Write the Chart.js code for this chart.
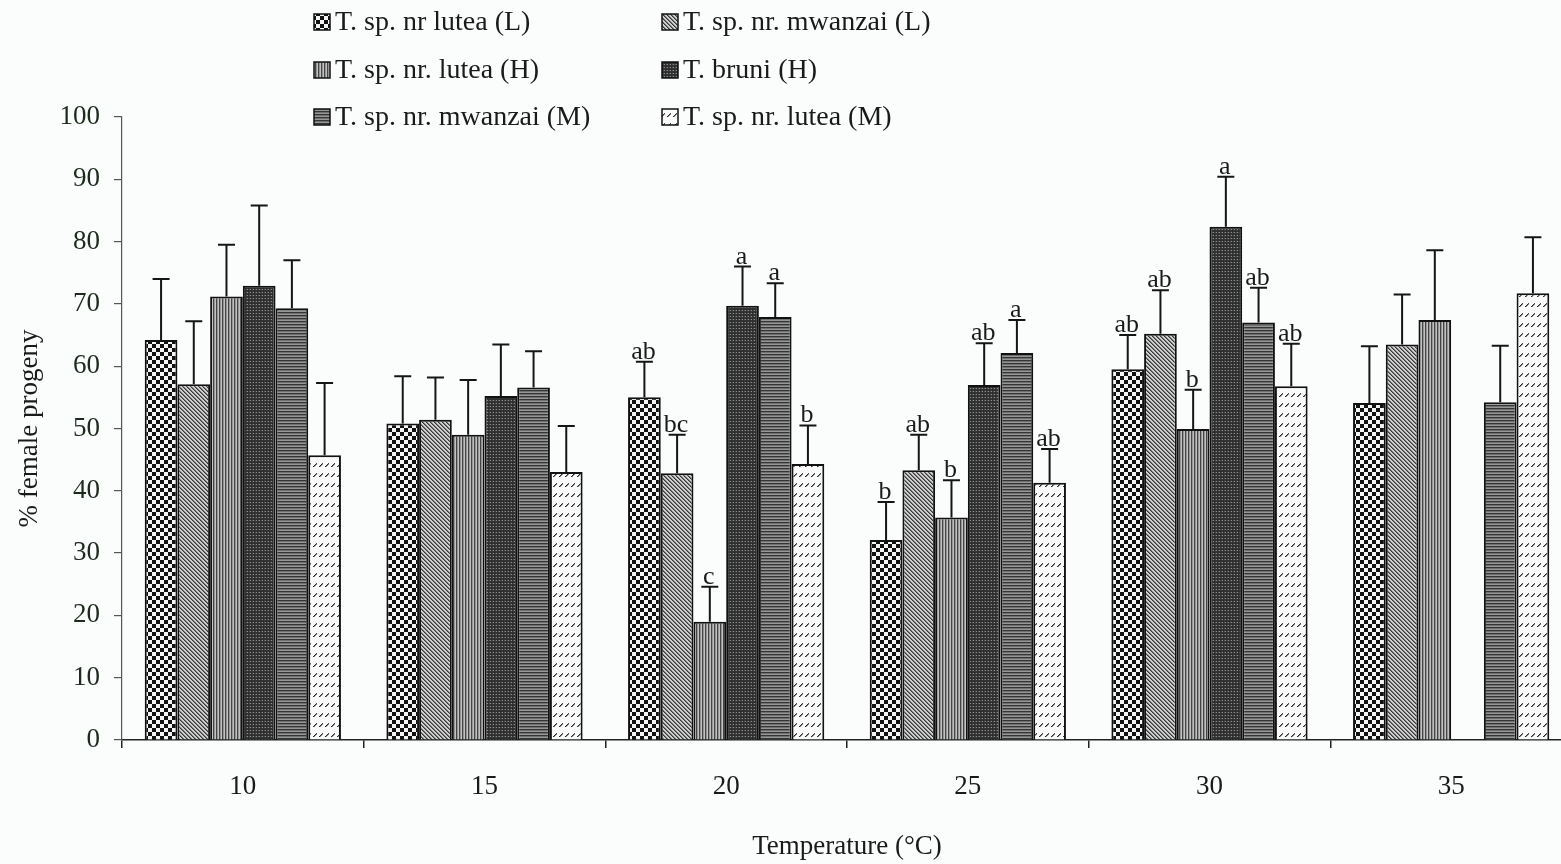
<!DOCTYPE html>
<html>
<head>
<meta charset="utf-8">
<script src="https://cdn.jsdelivr.net/npm/chart.js@4.4.0/dist/chart.umd.min.js"></script>
<style>
  html, body { margin: 0; padding: 0; background: #fbfdfd; overflow: hidden; }
  canvas { display: block; }
</style>
</head>
<body>
<canvas id="chart" width="1572" height="864"></canvas>
<script>
// Temperature treatments (°C)
const temperatures = ['10', '15', '20', '25', '30', '35'];

// Series labels
const seriesNames = [
  'T. sp. nr lutea (L)',
  'T. sp. nr. mwanzai (L)',
  'T. sp. nr. lutea (H)',
  'T. bruni (H)',
  'T. sp. nr. mwanzai (M)',
  'T. sp. nr. lutea (M)'
];

// Mean % female progeny per temperature
const luteaL   = [64.2, 50.8, 55.0, 32.1, 59.5, 54.1];
const mwanzaiL = [57.1, 51.4, 42.8, 43.3, 65.2, 63.5];
const luteaH   = [71.2, 49.0, 19.0, 35.7, 49.9, 67.4];
const bruniH   = [72.9, 55.2, 69.7, 57.0, 82.4, null];
const mwanzaiM = [69.3, 56.6, 67.9, 62.1, 67.0, 54.2];
const luteaM   = [45.7, 43.0, 44.3, 41.3, 56.8, 71.7];

// Standard errors (upper whisker length)
const luteaLSe   = [9.8, 7.6, 5.7, 6.1, 5.5, 9.1];
const mwanzaiLSe = [10.1, 6.8, 6.2, 5.7, 7.0, 8.0];
const luteaHSe   = [8.3, 8.8, 5.6, 6.0, 6.3, 11.2];
const bruniHSe   = [12.9, 8.3, 6.3, 6.7, 8.0, null];
const mwanzaiMSe = [7.7, 5.8, 5.4, 5.3, 5.6, 9.1];
const luteaMSe   = [11.6, 7.4, 6.2, 5.4, 6.8, 9.0];

// Mean separation letters
const luteaLLetters   = ['', '', 'ab', 'b', 'ab', ''];
const mwanzaiLLetters = ['', '', 'bc', 'ab', 'ab', ''];
const luteaHLetters   = ['', '', 'c', 'b', 'b', ''];
const bruniHLetters   = ['', '', 'a', 'ab', 'a', ''];
const mwanzaiMLetters = ['', '', 'a', 'a', 'ab', ''];
const luteaMLetters   = ['', '', 'b', 'ab', 'ab', ''];

// Y axis ticks
const yTicks = [0, 10, 20, 30, 40, 50, 60, 70, 80, 90, 100];

const SERIF = '"Liberation Serif", "Times New Roman", serif';
const INK = '#1a1a1a';

// ---- fill patterns -------------------------------------------------
function tile(w, h, paint) {
  const c = document.createElement('canvas');
  c.width = w; c.height = h;
  const g = c.getContext('2d');
  paint(g, w, h);
  return document.getElementById('chart').getContext('2d').createPattern(c, 'repeat');
}
function px(g, x, y, col) { g.fillStyle = col; g.fillRect(x, y, 1, 1); }

const patterns = [
  // checkerboard
  tile(8, 8, (g) => {
    g.fillStyle = '#f4f4f4'; g.fillRect(0, 0, 8, 8);
    g.fillStyle = '#111'; g.fillRect(0, 0, 4, 4); g.fillRect(4, 4, 4, 4);
  }),
  // fine diagonal hatch
  tile(4, 4, (g) => {
    g.fillStyle = '#d0d0d0'; g.fillRect(0, 0, 4, 4);
    for (let i = 0; i < 4; i++) { px(g, i, i, '#363636'); px(g, (i + 1) % 4, i, '#777'); }
  }),
  // vertical lines
  tile(3, 1, (g) => {
    g.fillStyle = '#c2c2c2'; g.fillRect(0, 0, 3, 1);
    px(g, 0, 0, '#444'); px(g, 1, 0, '#959595');
  }),
  // dark dotted
  tile(3, 3, (g) => {
    g.fillStyle = '#333'; g.fillRect(0, 0, 3, 3);
    px(g, 1, 1, '#8e8e8e'); px(g, 0, 1, '#4e4e4e'); px(g, 2, 0, '#262626');
  }),
  // horizontal lines
  tile(1, 3, (g) => {
    g.fillStyle = '#969696'; g.fillRect(0, 0, 1, 3);
    px(g, 0, 0, '#353535'); px(g, 0, 1, '#707070');
  }),
  // light with rows of short slashes
  tile(6, 10, (g) => {
    g.fillStyle = '#fafafa'; g.fillRect(0, 0, 6, 10);
    px(g, 1, 6, '#2a2a2a'); px(g, 2, 5, '#2a2a2a'); px(g, 3, 4, '#2a2a2a'); px(g, 4, 3, '#444');
    px(g, 2, 6, '#888'); px(g, 3, 5, '#888'); px(g, 4, 4, '#888');
  })
];

const values  = [luteaL, mwanzaiL, luteaH, bruniH, mwanzaiM, luteaM];
const errors  = [luteaLSe, mwanzaiLSe, luteaHSe, bruniHSe, mwanzaiMSe, luteaMSe];
const letters = [luteaLLetters, mwanzaiLLetters, luteaHLetters, bruniHLetters, mwanzaiMLetters, luteaMLetters];

const datasets = seriesNames.map((name, i) => ({
  label: name,
  data: values[i],
  backgroundColor: patterns[i],
  borderColor: '#111',
  borderWidth: 2,
  borderSkipped: 'bottom',
  se: errors[i],
  letters: letters[i],
  barPercentage: 1.0,
  categoryPercentage: 0.812
}));

// ---- plugins ---------------------------------------------------------
const background = {
  id: 'background',
  beforeDraw(chart) {
    const { ctx, width, height } = chart;
    ctx.save();
    ctx.fillStyle = '#fbfdfd';
    ctx.fillRect(0, 0, width, height);
    ctx.restore();
  }
};

const errorBars = {
  id: 'errorBars',
  afterDatasetsDraw(chart) {
    const { ctx } = chart;
    const yScale = chart.scales.y;
    ctx.save();
    ctx.strokeStyle = '#151515';
    ctx.lineWidth = 2;
    chart.data.datasets.forEach((ds, i) => {
      const meta = chart.getDatasetMeta(i);
      meta.data.forEach((bar, j) => {
        const v = ds.data[j];
        const se = ds.se[j];
        if (v == null || se == null) return;
        const yTop = yScale.getPixelForValue(v + se);
        ctx.beginPath();
        ctx.moveTo(bar.x, bar.y);
        ctx.lineTo(bar.x, yTop);
        ctx.moveTo(bar.x - 8.5, yTop);
        ctx.lineTo(bar.x + 8.5, yTop);
        ctx.stroke();
      });
    });
    ctx.fillStyle = INK;
    ctx.font = '26px ' + SERIF;
    ctx.textAlign = 'center';
    ctx.textBaseline = 'alphabetic';
    chart.data.datasets.forEach((ds, i) => {
      const meta = chart.getDatasetMeta(i);
      meta.data.forEach((bar, j) => {
        const txt = ds.letters[j];
        if (!txt || ds.data[j] == null) return;
        const yTop = yScale.getPixelForValue(ds.data[j] + ds.se[j]);
        ctx.fillText(txt, bar.x - 1, yTop - 3);
      });
    });
    ctx.restore();
  }
};

const gridLegend = {
  id: 'gridLegend',
  afterDraw(chart) {
    const { ctx } = chart;
    const cols = [314, 662];
    const rows = [22, 70, 117];
    ctx.save();
    ctx.font = '28px ' + SERIF;
    ctx.textBaseline = 'middle';
    ctx.textAlign = 'left';
    chart.data.datasets.forEach((ds, i) => {
      const x = cols[i % 2];
      const y = rows[Math.floor(i / 2)];
      ctx.fillStyle = ds.backgroundColor;
      ctx.fillRect(x, y - 8, 16, 16);
      ctx.strokeStyle = '#111';
      ctx.lineWidth = 1.5;
      ctx.strokeRect(x, y - 8, 16, 16);
      ctx.fillStyle = INK;
      ctx.fillText(ds.label, x + 21, y + 1);
    });
    ctx.restore();
  }
};

new Chart(document.getElementById('chart'), {
  type: 'bar',
  data: { labels: temperatures, datasets },
  plugins: [background, errorBars, gridLegend],
  options: {
    responsive: false,
    animation: false,
    devicePixelRatio: 1,
    layout: { padding: { top: 117, left: 0, right: 0, bottom: 0 } },
    plugins: { legend: { display: false }, tooltip: { enabled: false } },
    scales: {
      x: {
        grid: { display: true, drawOnChartArea: false, offset: true, tickLength: 8, color: '#222', lineWidth: 1.5 },
        border: { display: true, color: '#222', width: 1.5 },
        ticks: { color: INK, font: { family: SERIF, size: 27 }, padding: 23, maxRotation: 0 },
        title: { display: true, text: 'Temperature (°C)', color: INK, font: { family: SERIF, size: 27 }, padding: { top: 0, bottom: 1 } },
        afterFit(scale) { scale.height = 124; }
      },
      y: {
        min: 0, max: 100,
        afterBuildTicks(scale) { scale.ticks = yTicks.map(v => ({ value: v })); },
        grid: { display: true, drawOnChartArea: false, tickLength: 8, color: '#555', lineWidth: 1.2 },
        border: { display: true, color: '#555', width: 1.2 },
        ticks: { color: '#1d2a1d', font: { family: SERIF, size: 27 }, padding: 14 },
        title: { display: true, text: '% female progeny', color: INK, font: { family: SERIF, size: 27 }, padding: { top: 14, bottom: 0 } },
        afterFit(scale) { scale.width = 122; }
      }
    }
  }
});
</script>
</body>
</html>
